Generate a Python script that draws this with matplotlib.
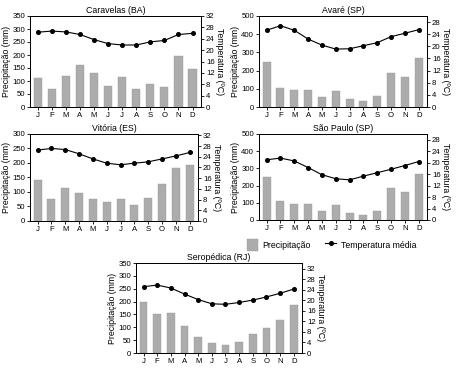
import matplotlib
matplotlib.use("Agg")
import matplotlib.pyplot as plt
from matplotlib.patches import Patch
from matplotlib.lines import Line2D
import numpy as np

plt.rcParams['font.family'] = ['Liberation Sans', 'DejaVu Sans']

months = ["J", "F", "M", "A", "M", "J", "J", "A", "S", "O", "N", "D"]

caravelas_prec = [110, 70, 120, 160, 130, 80, 115, 68, 87, 78, 195, 145]
caravelas_temp = [26.3, 26.7, 26.4, 25.5, 23.7, 22.3, 21.8, 21.8, 22.9, 23.4, 25.5, 25.9]

avare_prec = [250, 107, 92, 92, 53, 90, 42, 33, 59, 189, 164, 270]
avare_temp = [25.3, 26.8, 25.3, 22.4, 20.4, 19.1, 19.2, 20.2, 21.2, 23.2, 24.3, 25.5]

vitoria_prec = [143, 77, 113, 97, 77, 64, 76, 55, 78, 128, 183, 193]
vitoria_temp = [26.5, 27.1, 26.7, 25.1, 23.2, 21.6, 21.0, 21.6, 22.1, 23.2, 24.3, 25.6]

saopaulo_prec = [252, 108, 91, 91, 54, 89, 38, 30, 55, 187, 160, 268]
saopaulo_temp = [21.0, 21.6, 20.6, 18.3, 15.8, 14.4, 14.0, 15.3, 16.5, 17.7, 19.0, 20.4]

seropedica_prec = [198, 151, 157, 106, 62, 40, 32, 43, 74, 98, 128, 187]
seropedica_temp = [25.2, 25.8, 24.7, 22.4, 20.3, 18.7, 18.5, 19.2, 20.1, 21.3, 22.7, 24.3]

panels = [
    ("Caravelas (BA)", caravelas_prec, caravelas_temp, 350, 50, 32, 32, (30, 16, 201, 107)),
    ("Avaré (SP)", avare_prec, avare_temp, 500, 100, 30, 28, (259, 16, 427, 107)),
    ("Vitória (ES)", vitoria_prec, vitoria_temp, 300, 50, 32.5, 32, (30, 134, 198, 221)),
    ("São Paulo (SP)", saopaulo_prec, saopaulo_temp, 500, 100, 30, 28, (259, 134, 427, 220)),
    ("Seropédica (RJ)", seropedica_prec, seropedica_temp, 350, 50, 34.2, 32, (136, 263, 302, 353)),
]

W, H = 459, 368
fig = plt.figure(figsize=(W / 100, H / 100), dpi=100)

bar_color = "#acacac"
fs = 5.6
lfs = 6.3

for title, prec, temp, lmax, lstep, rmax, rtmax, (x0, y0, x1, y1) in panels:
    ax = fig.add_axes([x0 / W, 1 - y1 / H, (x1 - x0) / W, (y1 - y0) / H])
    x = np.arange(len(months))
    ax.bar(x, prec, width=0.58, color=bar_color, edgecolor="#9a9a9a", linewidth=0.3, zorder=2)
    ax.set_xlim(-0.55, 11.6)
    ax.set_ylim(0, lmax)
    ax.set_yticks(np.arange(0, lmax + 1, lstep))
    ax.set_xticks(x)
    ax.set_xticklabels(months)
    ax.tick_params(labelsize=fs, length=2, width=0.6, pad=1.5)
    ax.set_ylabel("Precipitação (mm)", fontsize=lfs, labelpad=1.2)
    ax.set_title(title, fontsize=lfs, pad=2)
    for s in ax.spines.values():
        s.set_linewidth(0.7)
    ax2 = ax.twinx()
    ax2.plot(x, temp, color="black", linewidth=0.8, marker="o", markersize=2.6, zorder=3)
    ax2.set_ylim(0, rmax)
    ax2.set_yticks(np.arange(0, rtmax + 1, 4))
    ax2.tick_params(labelsize=fs, length=2, width=0.6, pad=1.5)
    ax2.set_ylabel("Temperatura (ºC)", fontsize=lfs, rotation=270, labelpad=7)
    for s in ax2.spines.values():
        s.set_linewidth(0.7)

handles = [
    Patch(facecolor=bar_color, edgecolor="#9a9a9a", linewidth=0.3),
    Line2D([0], [0], color="black", linewidth=0.8, marker="o", markersize=2.6),
]
fig.legend(handles, ["Precipitação", "Temperatura média"], loc="center",
           bbox_to_anchor=(0.722, 0.334), ncol=2, frameon=False, fontsize=lfs,
           handlelength=1.3, handleheight=1.8, columnspacing=1.6, handletextpad=0.5)

fig.savefig("out.png", dpi=100)
